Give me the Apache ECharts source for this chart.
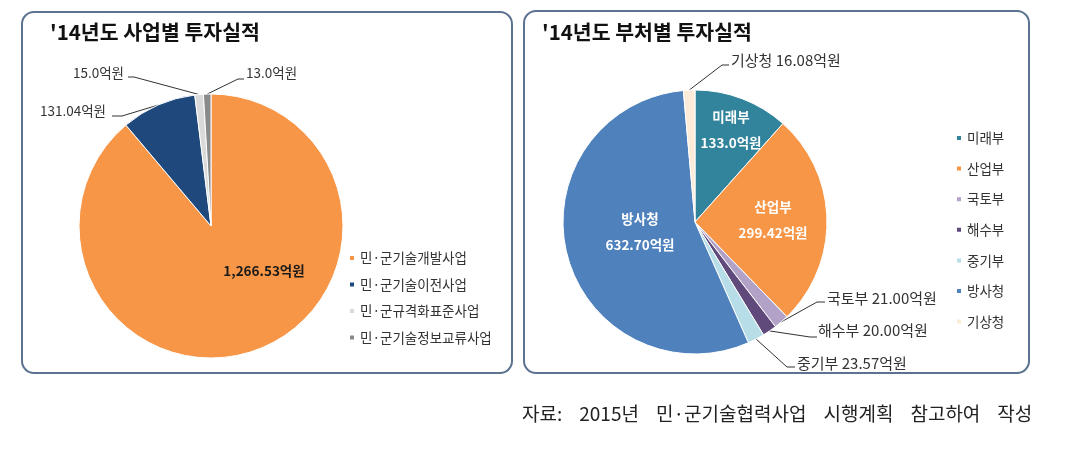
<!DOCTYPE html>
<html><head><meta charset="utf-8">
<script src="https://cdn.jsdelivr.net/npm/echarts@6/dist/echarts.min.js"></script>
<style>html,body{margin:0;padding:0;background:#fff}#c{width:1074px;height:453px}</style>
</head><body><div id="c"></div>
<script>
// ---- data ----
const projectNames = ['민·군기술개발사업', '민·군기술이전사업', '민·군규격화표준사업', '민·군기술정보교류사업'];
const projectValues = [1266.53, 131.04, 15.0, 13.0];
const projectDecimals = [2, 2, 1, 1];
const ministryNames = ['미래부', '산업부', '국토부', '해수부', '중기부', '방사청', '기상청'];
const ministryValues = [133.0, 299.42, 21.00, 20.00, 23.57, 632.70, 16.08];
const ministryDecimals = [1, 2, 2, 2, 2, 2, 2];
const leftTitle = "'14년도 사업별 투자실적";
const rightTitle = "'14년도 부처별 투자실적";
const sourceNote = '자료:    2015년    민·군기술협력사업    시행계획    참고하여    작성';
const unit = '억원';

// ---- styles ----
const FONT = '"Noto Sans CJK KR", "Noto Sans", sans-serif';
const projectColors = ['#F79646', '#1F497D', '#DADADA', '#8A8A8A'];
const ministryColors = ['#31849B', '#F79646', '#B3A2C7', '#604A7B', '#B7DEE8', '#4F81BD', '#FBEBD8'];
const leftInside = [0];
const rightInside = [0, 1, 5];
const leftLabelPos = [
  {x: 264, y: 271, align: 'center'},
  {x: 106, y: 111, align: 'right', pts: [[122, 116], [112, 116]]},
  {x: 124, y: 73, align: 'right', pts: [[134, 77], [128, 77]]},
  {x: 246, y: 73, align: 'left', pts: [[238, 79], [244, 79]]}
];
const rightLabelPos = [
  {x: 731, y: 130, align: 'center'},
  {x: 773, y: 220, align: 'center'},
  {x: 827, y: 298, align: 'left', pts: [[817, 302], [825, 302]]},
  {x: 818, y: 330, align: 'left', pts: [[810, 337], [817, 337]]},
  {x: 797, y: 363, align: 'left', pts: [[787, 367], [795, 367]]},
  {x: 640, y: 232, align: 'center'},
  {x: 731, y: 60, align: 'left', pts: [[722, 65], [729, 65]]}
];

function fmt(v, d) {
  return v.toLocaleString('en-US', {minimumFractionDigits: d, maximumFractionDigits: d});
}
function layoutFrom(posArr) {
  return function (params) {
    const p = posArr[params.dataIndex];
    const out = {x: p.x, y: p.y, align: p.align, verticalAlign: 'middle'};
    if (p.pts && params.labelLinePoints) {
      out.labelLinePoints = [params.labelLinePoints[0], p.pts[0], p.pts[1]];
    }
    return out;
  };
}

const leftData = projectNames.map((n, i) => {
  const item = {name: n, value: projectValues[i], itemStyle: {color: projectColors[i]}};
  if (leftInside.includes(i)) {
    item.label = {position: 'inside', fontWeight: 'bold', color: '#1a1a1a', fontSize: 13.5};
    item.labelLine = {show: false};
  }
  return item;
});
const rightData = ministryNames.map((n, i) => {
  const item = {name: n, value: ministryValues[i], itemStyle: {color: ministryColors[i]}};
  if (rightInside.includes(i)) {
    item.label = {position: 'inside', fontWeight: 'bold', color: '#ffffff', fontSize: 13.5,
      lineHeight: 26, formatter: p => p.name + '\n' + fmt(p.value, ministryDecimals[p.dataIndex]) + unit};
    item.labelLine = {show: false};
  }
  return item;
});

const chart = echarts.init(document.getElementById('c'));
chart.setOption({
  animation: false,
  textStyle: {fontFamily: FONT},
  graphic: [
    {type: 'rect', z: 0, shape: {x: 22, y: 12, width: 490, height: 361, r: 12},
      style: {fill: '#fff', stroke: '#5B7391', lineWidth: 2}},
    {type: 'rect', z: 0, shape: {x: 524, y: 11, width: 505, height: 362, r: 12},
      style: {fill: '#fff', stroke: '#5B7391', lineWidth: 2}},
    {type: 'text', z: 5, x: 50, y: 32, style: {text: leftTitle, font: 'bold 20.5px ' + FONT, fill: '#111', verticalAlign: 'middle'}},
    {type: 'text', z: 5, x: 542, y: 32, style: {text: rightTitle, font: 'bold 20.5px ' + FONT, fill: '#111', verticalAlign: 'middle'}},
    {type: 'text', z: 5, x: 522, y: 414, style: {text: sourceNote, font: '19px ' + FONT, fill: '#222', verticalAlign: 'middle'}}
  ],
  legend: [
    {data: projectNames, orient: 'vertical', left: 348, top: 251, padding: 0, icon: 'rect', itemWidth: 6, itemHeight: 6,
      itemGap: 12.5, textStyle: {fontSize: 13.5, color: '#333', lineHeight: 14, fontFamily: FONT}},
    {data: ministryNames, orient: 'vertical', left: 955, top: 131, padding: 0, icon: 'rect', itemWidth: 6, itemHeight: 6,
      itemGap: 16.6, textStyle: {fontSize: 13.5, color: '#333', lineHeight: 14, fontFamily: FONT}}
  ],
  series: [
    {type: 'pie', center: [211, 226], radius: 132, startAngle: 90, clockwise: true, avoidLabelOverlap: false,
      itemStyle: {borderColor: '#fff', borderWidth: 1},
      label: {show: true, color: '#333', fontSize: 13.5, fontFamily: FONT,
        formatter: p => fmt(p.value, projectDecimals[p.dataIndex]) + unit},
      labelLine: {show: true, lineStyle: {color: '#333', width: 1}},
      labelLayout: layoutFrom(leftLabelPos),
      data: leftData},
    {type: 'pie', center: [695, 222], radius: 132, startAngle: 90, clockwise: true, avoidLabelOverlap: false,
      itemStyle: {borderColor: '#fff', borderWidth: 1},
      label: {show: true, color: '#333', fontSize: 15, fontFamily: FONT,
        formatter: p => p.name + ' ' + fmt(p.value, ministryDecimals[p.dataIndex]) + unit},
      labelLine: {show: true, lineStyle: {color: '#333', width: 1}},
      labelLayout: layoutFrom(rightLabelPos),
      data: rightData}
  ]
});
</script>
</body></html>
